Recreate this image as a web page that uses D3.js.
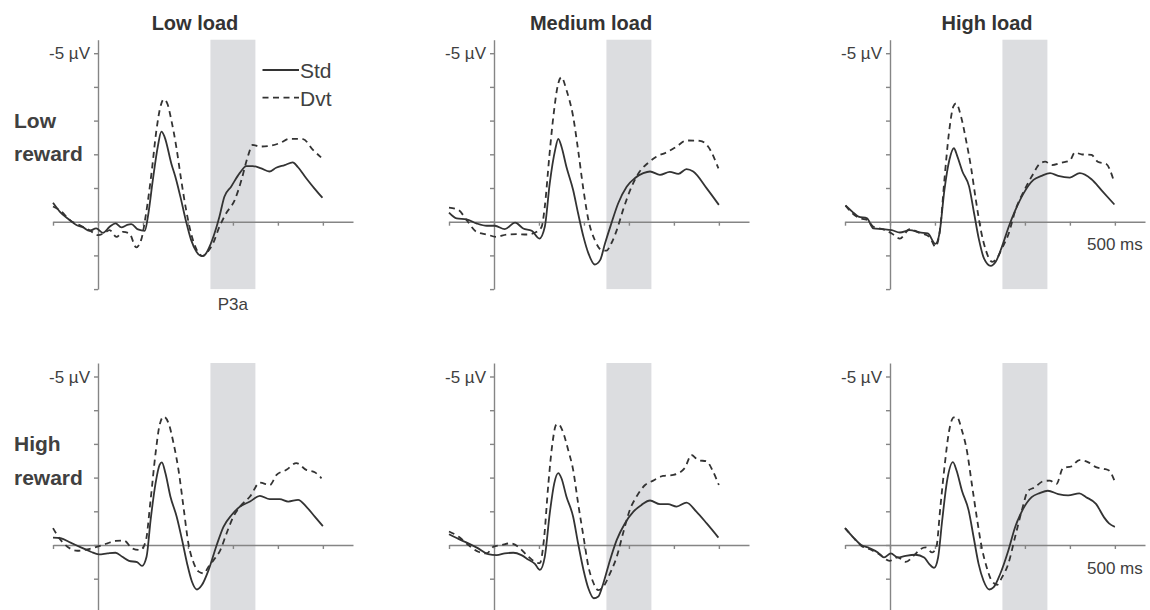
<!DOCTYPE html>
<html>
<head>
<meta charset="utf-8">
<script src="https://cdn.jsdelivr.net/npm/d3@7"></script>
<style>
  body { margin: 0; background: #fff; }
  svg { display: block; }
  text { font-family: "Liberation Sans", Arial, sans-serif; }
</style>
</head>
<body>
<svg id="chart" width="1150" height="610"></svg>
<script>
'use strict';

const loads = ['Low load', 'Medium load', 'High load'];
const rewards = [['Low', 'reward'], ['High', 'reward']];
const xTicks = [-100, 0, 100, 200, 300, 400, 500];
const yTicks = [-5, -4, -3, -2, -1, 0, 1, 2];
const p3aWindow = [250, 350];

// [ms, µV] pairs (negative plotted up)
const lowRewardLowLoadStd = [[-100,-.56],[-85,-.3],[-63,-.05],[-48,.1],[-33,.17],[-19,.27],[-4,.2],[11,.33],[26,.15],[39,.05],[52,.17],[64,.1],[74,.07],[89,.23],[104,.27],[111,-.15],[122,-1.24],[133,-2.23],[141,-2.67],[148,-2.52],[163,-1.73],[174,-1.24],[185,-.64],[196,0],[207,.54],[219,.89],[230,1.02],[237,.99],[248,.74],[259,.35],[270,-.15],[281,-.74],[296,-1.04],[315,-1.44],[330,-1.65],[344,-1.65],[363,-1.58],[381,-1.49],[396,-1.6],[415,-1.68],[433,-1.76],[444,-1.63],[463,-1.29],[481,-.99],[499,-.71]];
const lowRewardLowLoadDvt = [[-100,-.45],[-81,-.3],[-63,-.05],[-41,.1],[-19,.25],[0,.4],[15,.33],[26,.25],[41,.45],[56,.3],[70,.35],[85,.76],[96,.54],[107,-.25],[119,-1.44],[130,-2.72],[139,-3.42],[146,-3.63],[154,-3.51],[163,-3.02],[174,-2.23],[185,-1.24],[196,-.35],[207,.35],[219,.82],[233,1.02],[244,.89],[256,.64],[270,.15],[285,-.25],[304,-.64],[319,-1.24],[333,-1.93],[344,-2.28],[359,-2.23],[381,-2.25],[404,-2.33],[426,-2.46],[456,-2.45],[478,-2.13],[496,-1.91]];

const lowRewardMedLoadStd = [[-100,-.27],[-83,-.1],[-61,-.07],[-39,.05],[-16,.12],[2,.12],[24,.22],[47,.03],[65,.2],[84,.27],[101,.5],[113,.15],[124,-1.14],[136,-2.13],[143,-2.46],[150,-2.23],[161,-1.63],[176,-.94],[187,-.25],[199,.45],[210,.94],[224,1.27],[236,1.14],[247,.64],[261,.05],[276,-.54],[295,-1.04],[313,-1.29],[332,-1.44],[347,-1.49],[369,-1.39],[391,-1.48],[410,-1.42],[428,-1.56],[443,-1.49],[473,-.99],[500,-.5]];
const lowRewardMedLoadDvt = [[-100,-.42],[-79,-.35],[-61,-.05],[-39,.3],[-16,.38],[6,.45],[28,.38],[50,.37],[73,.38],[95,.3],[106,.15],[113,-.45],[123,-1.93],[132,-3.12],[143,-4.11],[150,-4.29],[161,-3.91],[176,-3.12],[187,-2.13],[199,-.94],[210,-.05],[224,.54],[239,.84],[250,.86],[261,.64],[273,.25],[287,-.35],[306,-1.04],[324,-1.49],[343,-1.75],[361,-1.93],[384,-2.06],[406,-2.23],[428,-2.41],[458,-2.4],[476,-2.23],[499,-1.58]];

const lowRewardHighLoadStd = [[-99,-.48],[-84,-.3],[-70,-.15],[-51,-.1],[-37,.2],[-15,.22],[4,.25],[22,.32],[44,.25],[66,.32],[84,.35],[101,.66],[110,.35],[121,-.94],[132,-1.83],[142,-2.18],[150,-1.93],[161,-1.49],[176,-1.04],[187,-.25],[198,.54],[209,1.09],[224,1.31],[235,1.19],[249,.74],[264,.15],[279,-.35],[297,-.84],[319,-1.24],[337,-1.36],[356,-1.44],[374,-1.36],[400,-1.31],[422,-1.44],[448,-1.26],[470,-.94],[499,-.51]];
const lowRewardHighLoadDvt = [[-99,-.48],[-84,-.25],[-66,-.1],[-51,-.05],[-37,.15],[-15,.23],[4,.35],[22,.5],[44,.22],[66,.33],[88,.45],[101,.74],[112,.15],[121,-1.24],[131,-2.62],[141,-3.42],[147,-3.51],[158,-3.12],[169,-2.43],[180,-1.63],[191,-.64],[202,.25],[213,.84],[227,1.19],[238,1.09],[249,.79],[264,.35],[279,-.35],[297,-.89],[315,-1.34],[334,-1.73],[345,-1.78],[360,-1.68],[381,-1.75],[400,-1.81],[411,-2.05],[426,-2],[448,-1.98],[462,-1.78],[481,-1.71],[497,-1.24]];

const highRewardLowLoadStd = [[-100,-.22],[-83,-.2],[-61,-.07],[-38,.07],[-16,.2],[2,.28],[21,.25],[39,.23],[54,.35],[69,.47],[87,.51],[98,.62],[108,.35],[117,-.74],[128,-1.83],[137,-2.38],[142,-2.45],[150,-2.13],[161,-1.44],[175,-.84],[187,-.15],[198,.54],[209,1.09],[220,1.32],[231,1.19],[246,.74],[264,0],[279,-.54],[297,-.89],[316,-1.14],[338,-1.29],[360,-1.46],[382,-1.36],[404,-1.36],[423,-1.29],[445,-1.34],[463,-1.14],[482,-.84],[500,-.56]];
const highRewardLowLoadDvt = [[-100,-.5],[-86,-.2],[-68,.05],[-46,.17],[-24,.13],[-1,.05],[21,-.05],[39,-.12],[58,-.13],[76,.1],[94,.15],[106,-.1],[117,-1.34],[128,-2.72],[137,-3.56],[146,-3.81],[157,-3.61],[168,-3.02],[179,-2.23],[190,-1.14],[201,-.05],[213,.54],[224,.79],[235,.84],[246,.64],[257,.45],[272,.15],[286,-.35],[301,-.84],[316,-1.14],[338,-1.44],[360,-1.85],[382,-1.78],[397,-2.08],[419,-2.23],[441,-2.43],[463,-2.23],[482,-2.16],[497,-1.98]];

const highRewardMedLoadStd = [[-100,-.32],[-79,-.18],[-57,-.05],[-35,.1],[-13,.27],[6,.3],[24,.25],[43,.23],[61,.3],[76,.43],[91,.56],[102,.74],[113,.35],[124,-.94],[134,-1.83],[143,-2.13],[150,-1.98],[161,-1.44],[176,-.84],[187,-.05],[199,.74],[210,1.29],[222,1.58],[232,1.53],[243,1.14],[258,.45],[273,-.15],[291,-.64],[310,-.99],[328,-1.19],[347,-1.32],[369,-1.21],[387,-1.21],[406,-1.14],[428,-1.26],[450,-.99],[473,-.64],[499,-.22]];
const highRewardMedLoadDvt = [[-100,-.4],[-79,-.25],[-57,0],[-35,.2],[-16,.25],[-1,.05],[17,0],[36,-.05],[54,.05],[73,.3],[91,.5],[102,.54],[111,-.15],[121,-1.83],[130,-3.02],[138,-3.56],[143,-3.59],[153,-3.37],[165,-2.82],[176,-2.23],[187,-1.24],[199,-.25],[210,.64],[221,1.12],[232,1.34],[243,1.24],[258,.84],[273,.35],[287,-.35],[302,-1.04],[317,-1.44],[336,-1.78],[354,-1.91],[376,-2.05],[399,-2.08],[424,-2.28],[439,-2.67],[454,-2.52],[473,-2.48],[487,-2.18],[500,-1.78]];

const highRewardHighLoadStd = [[-100,-.5],[-82,-.23],[-64,0],[-46,.09],[-27,.22],[-13,.37],[2,.25],[17,.37],[35,.32],[57,.29],[76,.37],[87,.56],[98,.68],[107,.37],[116,-.72],[127,-1.91],[140,-2.46],[148,-2.21],[160,-1.61],[175,-1.02],[186,-.23],[197,.56],[208,1.06],[221,1.32],[230,1.26],[245,.86],[263,.17],[278,-.52],[296,-1.07],[315,-1.42],[333,-1.54],[351,-1.61],[374,-1.51],[396,-1.47],[421,-1.53],[436,-1.42],[458,-1.22],[476,-.82],[487,-.64],[500,-.54]];
const highRewardHighLoadDvt = [[-100,-.5],[-82,-.23],[-64,.02],[-46,.12],[-24,.27],[-1,.47],[17,.37],[35,.5],[54,.3],[68,.12],[79,.07],[94,.22],[103,.07],[112,-1.12],[122,-2.41],[131,-3.35],[142,-3.79],[149,-3.79],[160,-3.4],[171,-2.8],[182,-1.81],[193,-.82],[204,.07],[215,.66],[226,1.06],[238,1.18],[249,.96],[263,.56],[278,-.23],[293,-1.02],[307,-1.61],[322,-1.71],[340,-1.89],[355,-1.91],[370,-1.81],[385,-2.29],[403,-2.33],[421,-2.52],[440,-2.46],[458,-2.31],[476,-2.26],[487,-2.21],[499,-1.91]];

const panels = [
  { row: 0, col: 0, std: lowRewardLowLoadStd, dvt: lowRewardLowLoadDvt },
  { row: 0, col: 1, std: lowRewardMedLoadStd, dvt: lowRewardMedLoadDvt },
  { row: 0, col: 2, std: lowRewardHighLoadStd, dvt: lowRewardHighLoadDvt },
  { row: 1, col: 0, std: highRewardLowLoadStd, dvt: highRewardLowLoadDvt },
  { row: 1, col: 1, std: highRewardMedLoadStd, dvt: highRewardMedLoadDvt },
  { row: 1, col: 2, std: highRewardHighLoadStd, dvt: highRewardHighLoadDvt }
];

const COL_X = [98, 494, 890];
const ROW_ZERO = [221.7, 545];
const UV_PX = 33.7;
const INK = '#333';
const LABEL = '#404040';
const AXIS = '#858585';
const DASH = '6,4.5';

const svg = d3.select('#chart');

// time axis runs a bit past 500 ms, as in the figure
const x = d3.scaleLinear().domain([-100, 567]).range([-45, 255]);
const y = d3.scaleLinear().domain([-5.4, 2]).range([-5.4 * UV_PX, 2 * UV_PX]);

const line = d3.line()
  .x(d => x(d[0]))
  .y(d => y(d[1]))
  .curve(d3.curveMonotoneX);

panels.forEach(drawPanel);
drawLabels();

function drawPanel(p) {
  const g = svg.append('g')
    .attr('transform', 'translate(' + COL_X[p.col] + ',' + ROW_ZERO[p.row] + ')');

  g.append('rect')
    .attr('x', x(p3aWindow[0]))
    .attr('width', x(p3aWindow[1]) - x(p3aWindow[0]))
    .attr('y', y(-5.4))
    .attr('height', y(2) - y(-5.4))
    .attr('fill', '#dcdde0');

  const yAxis = g.append('g')
    .call(d3.axisLeft(y).tickValues(yTicks).tickSize(4).tickSizeOuter(0).tickFormat(''));
  const xAxis = g.append('g')
    .call(d3.axisBottom(x).tickValues(xTicks).tickSize(4).tickSizeOuter(0).tickFormat(''));
  [yAxis, xAxis].forEach(a => {
    a.select('.domain').attr('stroke', AXIS).attr('stroke-width', 1.4);
    a.selectAll('.tick line').attr('stroke', AXIS).attr('stroke-width', 1.4);
  });

  g.append('path')
    .datum(p.dvt)
    .attr('d', line)
    .attr('fill', 'none')
    .attr('stroke', INK)
    .attr('stroke-width', 1.8)
    .attr('stroke-dasharray', DASH);

  g.append('path')
    .datum(p.std)
    .attr('d', line)
    .attr('fill', 'none')
    .attr('stroke', INK)
    .attr('stroke-width', 1.8);

  g.append('text')
    .attr('x', -8)
    .attr('y', y(-5) + 6)
    .attr('text-anchor', 'end')
    .attr('font-size', 17)
    .attr('fill', LABEL)
    .text('-5 µV');

  if (p.col === 2) {
    g.append('text')
      .attr('x', x(500))
      .attr('y', 28.5)
      .attr('text-anchor', 'middle')
      .attr('font-size', 17)
      .attr('fill', LABEL)
      .text('500 ms');
  }

  if (p.row === 0 && p.col === 0) {
    g.append('text')
      .attr('x', x(300))
      .attr('y', y(2) + 21)
      .attr('text-anchor', 'middle')
      .attr('font-size', 17)
      .attr('fill', LABEL)
      .text('P3a');

    const legend = [['Std', null, -151.7], ['Dvt', DASH, -124]];
    legend.forEach(l => {
      g.append('line')
        .attr('x1', 164.5).attr('x2', 201)
        .attr('y1', l[2]).attr('y2', l[2])
        .attr('stroke', INK)
        .attr('stroke-width', 1.8)
        .attr('stroke-dasharray', l[1]);
      g.append('text')
        .attr('x', 202)
        .attr('y', l[2] + 8)
        .attr('font-size', 21)
        .attr('fill', LABEL)
        .text(l[0]);
    });
  }
}

function drawLabels() {
  loads.forEach((t, i) => {
    svg.append('text')
      .attr('x', COL_X[i] + 97)
      .attr('y', 30)
      .attr('text-anchor', 'middle')
      .attr('font-size', 20)
      .attr('font-weight', 'bold')
      .attr('fill', '#333')
      .text(t);
  });

  rewards.forEach((r, i) => {
    svg.append('text')
      .attr('x', 14)
      .attr('y', ROW_ZERO[i] + y(-3) + 7.5)
      .attr('font-size', 21)
      .attr('font-weight', 'bold')
      .attr('fill', LABEL)
      .text(r[0]);
    svg.append('text')
      .attr('x', 14)
      .attr('y', ROW_ZERO[i] + y(-2) + 7)
      .attr('font-size', 21)
      .attr('font-weight', 'bold')
      .attr('fill', LABEL)
      .text(r[1]);
  });
}
</script>
</body>
</html>
